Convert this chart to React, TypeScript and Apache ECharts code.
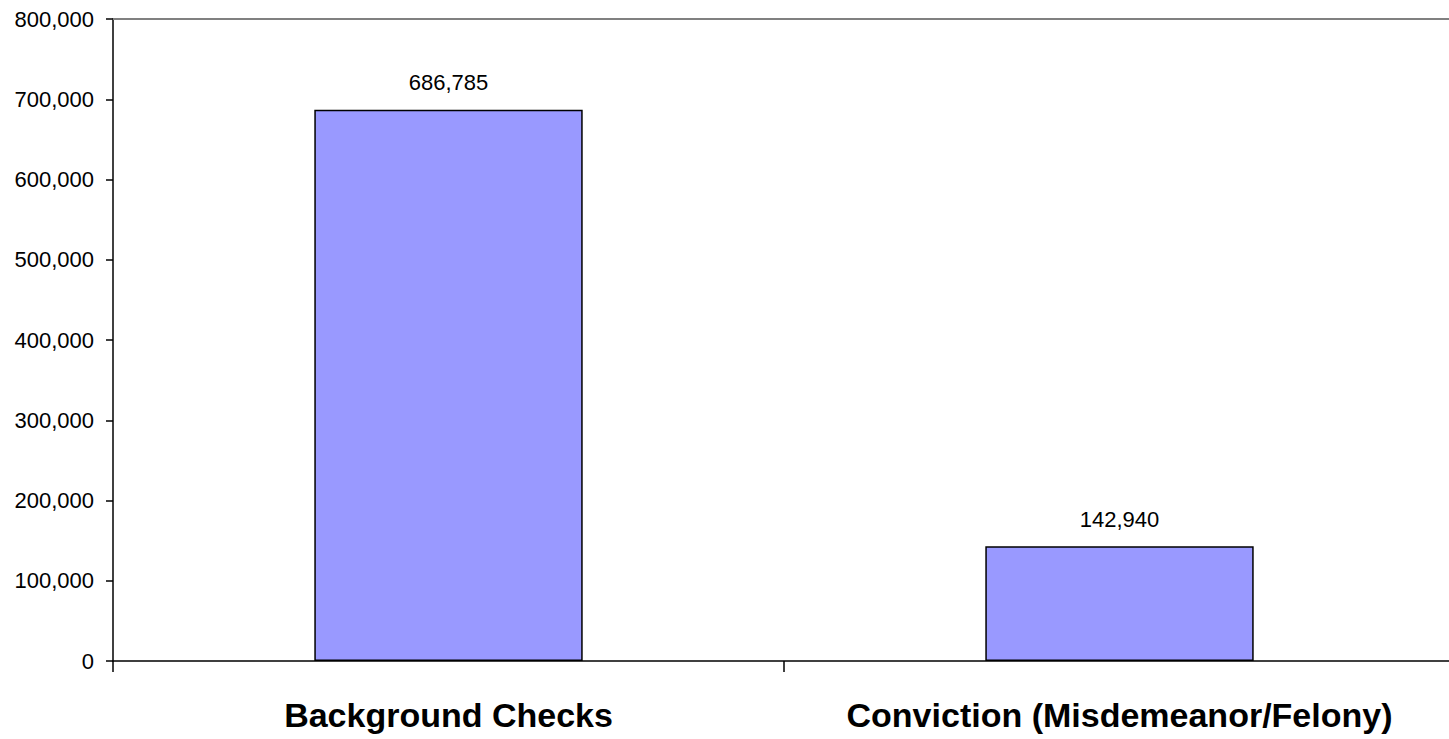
import React, { useEffect, useRef } from "react";
import * as echarts from "echarts";

const categories = ["Background Checks", "Conviction (Misdemeanor/Felony)"];
const values = [686785, 142940];
const yMin = 0;
const yMax = 800000;
const yInterval = 100000;

const FONT = "'Liberation Sans', Arial, Helvetica, sans-serif";

const fmt = (v: number) => v.toLocaleString("en-US");

export default function App() {
  const ref = useRef<HTMLDivElement>(null);
  useEffect(() => {
    if (!ref.current) return;
    const chart = echarts.init(ref.current, undefined, { renderer: "svg" });
    chart.setOption({
      animation: false,
      backgroundColor: "#ffffff",
      grid: { left: 113, top: 19, width: 1342, height: 642, containLabel: false },
      xAxis: [
        {
          type: "category",
          data: categories,
          position: "bottom",
          axisLine: { show: true, lineStyle: { color: "#000000", width: 1.5 } },
          axisTick: { show: true, length: 11, lineStyle: { color: "#000000", width: 1.5 } },
          axisLabel: {
            interval: 0,
            hideOverlap: false,
            fontFamily: FONT,
            fontSize: 34,
            fontWeight: "bold",
            color: "#000000",
            margin: 37,
          },
          splitLine: { show: false },
        },
        {
          type: "category",
          data: categories,
          position: "top",
          axisLine: { show: true, lineStyle: { color: "#808080", width: 2 } },
          axisTick: { show: false },
          axisLabel: { show: false },
          splitLine: { show: false },
        },
      ],
      yAxis: {
        type: "value",
        min: yMin,
        max: yMax,
        interval: yInterval,
        axisLine: { show: true, lineStyle: { color: "#000000", width: 1.5 } },
        axisTick: { show: true, length: 7, lineStyle: { color: "#000000", width: 1.5 } },
        axisLabel: {
          fontFamily: FONT,
          fontSize: 22,
          color: "#000000",
          margin: 19,
          formatter: (v: number) => fmt(v),
        },
        splitLine: { show: false },
      },
      series: [
        {
          type: "bar",
          data: values,
          barWidth: "40%",
          itemStyle: { color: "#9999FF", borderColor: "#000000", borderWidth: 1.5 },
          label: {
            show: true,
            position: "top",
            distance: 16,
            fontFamily: FONT,
            fontSize: 22,
            color: "#000000",
            formatter: (p: any) => fmt(p.value),
          },
        },
      ],
    });
    return () => chart.dispose();
  }, []);
  return (
    <div
      style={{
        position: "fixed",
        left: 0,
        top: 0,
        width: 1449,
        height: 739,
        overflow: "hidden",
        background: "#fff",
      }}
    >
      <div ref={ref} style={{ width: 1470, height: 739 }} />
    </div>
  );
}
